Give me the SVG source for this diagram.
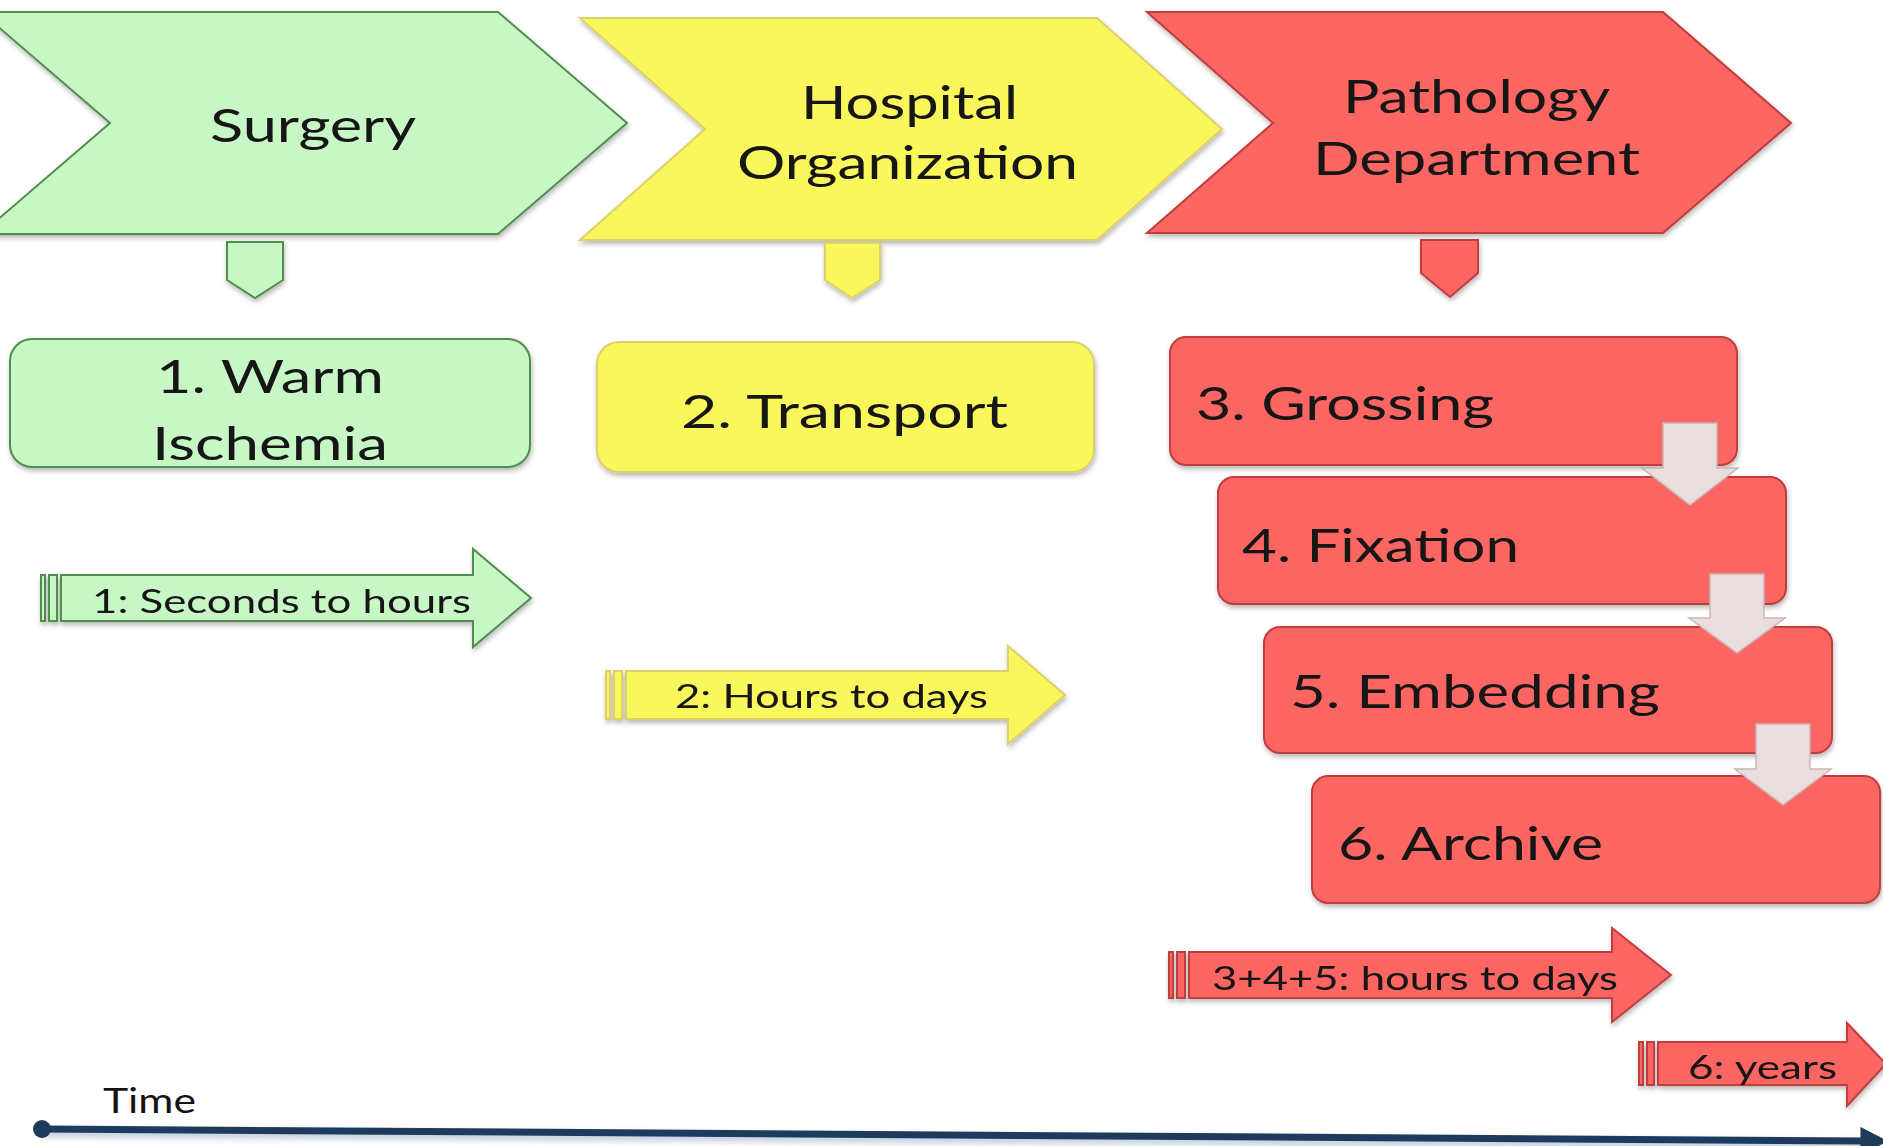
<svg xmlns="http://www.w3.org/2000/svg" width="1883" height="1146" viewBox="0 0 1883 1146">
  <defs>
    <style>
      .txt { font-family: Lato, "Liberation Sans", sans-serif; fill: #141414; }
      .big { font-size: 46px; }
      .dur { font-size: 33px; }
      .lbl { font-size: 35px; }
      .green { fill: #c8f7c6; stroke: #4f8f4c; stroke-width: 2; }
      .yellow { fill: #f9f75c; stroke: #ddd06a; stroke-width: 2; }
      .red { fill: #fb6562; stroke: #c23c3c; stroke-width: 2; }
      .green-dark { fill: #4f9a4a; }
      .yellow-dark { fill: #e8d97a; }
      .red-dark { fill: #d93434; }
      .step { fill: #e9dddd; stroke: #cdb5b5; stroke-width: 1.5; }
      .shadow { filter: url(#soft-shadow); }
    </style>
    <filter id="soft-shadow" x="-10%" y="-10%" width="120%" height="130%">
      <feDropShadow dx="1" dy="3" stdDeviation="2.5" flood-color="#000" flood-opacity="0.28"/>
    </filter>
    <filter id="axis-blur" x="-5%" y="-200%" width="110%" height="500%">
      <feGaussianBlur stdDeviation="3"/>
    </filter>
    <marker id="axis-head" viewBox="0 0 10 10" refX="2" refY="5" markerWidth="4" markerHeight="4" orient="auto">
      <path d="M0,0 L10,5 L0,10 Z" fill="#1e3a5c"/>
    </marker>
  </defs>

  <rect width="1883" height="1146" fill="#ffffff"/>

  <!-- stage chevrons -->
  <g id="node-surgery" class="shadow">
    <polygon class="green" points="-19,12 498,12 627,123 498,234 -19,234 110,123"/>
    <text class="txt big" x="210" y="142" textLength="206" lengthAdjust="spacingAndGlyphs">Surgery</text>
  </g>
  <g id="node-hospital" class="shadow">
    <polygon class="yellow" points="580,18 1097,18 1222,129 1097,240 580,240 705,129"/>
    <text class="txt big" x="801" y="119" textLength="217" lengthAdjust="spacingAndGlyphs">Hospital</text>
    <text class="txt big" x="737" y="179" textLength="341" lengthAdjust="spacingAndGlyphs">Organization</text>
  </g>
  <g id="node-pathology" class="shadow">
    <polygon class="red" points="1147,12 1663,12 1791,123 1663,233 1147,233 1273,123"/>
    <text class="txt big" x="1343" y="113" textLength="267" lengthAdjust="spacingAndGlyphs">Pathology</text>
    <text class="txt big" x="1313" y="175" textLength="327" lengthAdjust="spacingAndGlyphs">Department</text>
  </g>

  <!-- process steps -->
  <g id="node-warm-ischemia" class="shadow">
    <rect class="green" x="10" y="339" width="520" height="128" rx="22"/>
    <text class="txt big" x="156" y="393" textLength="228" lengthAdjust="spacingAndGlyphs">1. Warm</text>
    <text class="txt big" x="152" y="460" textLength="236" lengthAdjust="spacingAndGlyphs">Ischemia</text>
  </g>
  <g id="node-transport" class="shadow">
    <rect class="yellow" x="597" y="342" width="497" height="130" rx="22"/>
    <text class="txt big" x="681" y="428" textLength="327" lengthAdjust="spacingAndGlyphs">2. Transport</text>
  </g>
  <g id="node-grossing" class="shadow">
    <rect class="red" x="1170" y="337" width="567" height="128" rx="16"/>
    <text class="txt big" x="1196" y="420" textLength="298" lengthAdjust="spacingAndGlyphs">3. Grossing</text>
  </g>
  <g id="node-fixation" class="shadow">
    <rect class="red" x="1218" y="477" width="568" height="127" rx="16"/>
    <text class="txt big" x="1242" y="562" textLength="277" lengthAdjust="spacingAndGlyphs">4. Fixation</text>
  </g>
  <g id="node-embedding" class="shadow">
    <rect class="red" x="1264" y="627" width="568" height="126" rx="16"/>
    <text class="txt big" x="1290" y="708" textLength="370" lengthAdjust="spacingAndGlyphs">5. Embedding</text>
  </g>
  <g id="node-archive" class="shadow">
    <rect class="red" x="1312" y="776" width="568" height="127" rx="16"/>
    <text class="txt big" x="1338" y="860" textLength="265" lengthAdjust="spacingAndGlyphs">6. Archive</text>
  </g>

  <!-- connectors: stage pointers and step arrows -->
  <g id="connectors">
    <polygon class="green shadow" points="227,242 283,242 283,280 255,298 227,280"/>
    <polygon class="yellow shadow" points="825,243 880,243 880,280 852,298 825,280"/>
    <polygon class="red shadow" points="1421,240 1478,240 1478,273 1450,297 1421,273"/>

    <polygon class="step" points="1663,423 1717,423 1717,468 1738,468 1690,505 1642,468 1663,468"/>
    <polygon class="step" points="1710,574 1764,574 1764,618 1785,618 1737,653 1689,618 1710,618"/>
    <polygon class="step" points="1756,724 1810,724 1810,769 1831,769 1783,805 1735,769 1756,769"/>
  </g>

  <!-- duration arrows -->
  <g id="duration-1" class="shadow">
    <rect class="green" x="41" y="575" width="4" height="46"/>
    <rect class="green" x="49" y="575" width="8" height="46"/>
    <polygon class="green" points="61,575 473,575 473,549 531,598 473,647 473,621 61,621"/>
    <text class="txt dur" x="92" y="613" textLength="379" lengthAdjust="spacingAndGlyphs">1: Seconds to hours</text>
  </g>
  <g id="duration-2" class="shadow">
    <rect class="yellow" x="606" y="671" width="4" height="48"/>
    <rect class="yellow" x="614" y="671" width="8" height="48"/>
    <polygon class="yellow" points="626,671 1008,671 1008,646 1065,695 1008,744 1008,719 626,719"/>
    <text class="txt dur" x="675" y="708" textLength="313" lengthAdjust="spacingAndGlyphs">2: Hours to days</text>
  </g>
  <g id="duration-3-5" class="shadow">
    <rect class="red" x="1169" y="952" width="4" height="46"/>
    <rect class="red" x="1177" y="952" width="8" height="46"/>
    <polygon class="red" points="1189,952 1612,952 1612,928 1671,975 1612,1022 1612,998 1189,998"/>
    <text class="txt dur" x="1212" y="990" textLength="406" lengthAdjust="spacingAndGlyphs">3+4+5: hours to days</text>
  </g>
  <g id="duration-6" class="shadow">
    <rect class="red" x="1639" y="1042" width="4" height="43"/>
    <rect class="red" x="1647" y="1042" width="7" height="43"/>
    <polygon class="red" points="1658,1042 1847,1042 1847,1023 1886,1064 1847,1106 1847,1085 1658,1085"/>
    <text class="txt dur" x="1688" y="1079" textLength="149" lengthAdjust="spacingAndGlyphs">6: years</text>
  </g>

  <!-- time axis -->
  <g id="time-axis">
    <line x1="42" y1="1133" x2="1872" y2="1145" stroke="#6f8fb5" stroke-width="8" opacity="0.45" filter="url(#axis-blur)"/>
    <line x1="42" y1="1129" x2="1866" y2="1141" stroke="#1e3a5c" stroke-width="7" marker-end="url(#axis-head)"/>
    <circle cx="42" cy="1129" r="9" fill="#1e3a5c"/>
    <text class="txt lbl" x="103" y="1113" textLength="93" lengthAdjust="spacingAndGlyphs">Time</text>
  </g>
</svg>
